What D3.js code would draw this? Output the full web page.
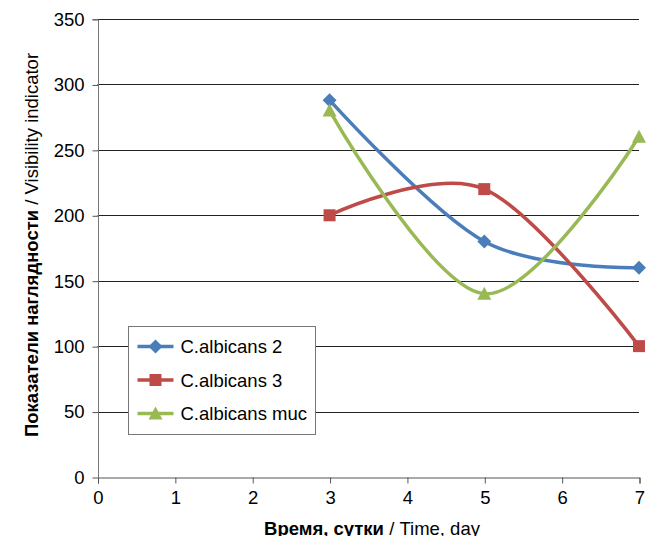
<!DOCTYPE html>
<html>
<head>
<meta charset="utf-8">
<script src="https://cdn.jsdelivr.net/npm/d3@7"></script>
<style>
  html, body { margin: 0; padding: 0; background: #fff; }
  svg { display: block; font-family: "Liberation Sans", Arial, sans-serif; }
</style>
</head>
<body>
<svg id="chart" width="662" height="536"></svg>
<script>
// Observation days and visibility indicator values per strain
const days = [3, 5, 7];
const seriesNames = ["C.albicans 2", "C.albicans 3", "C.albicans muc"];
const albicans2 = [288, 180, 160];
const albicans3 = [200, 220, 100];
const albicansMuc = [280, 140, 260];
const seriesColors = ["#4A7EBB", "#BE4B48", "#98B954"];
const markerShapes = ["diamond", "square", "triangle"];
const yTicks = [0, 50, 100, 150, 200, 250, 300, 350];
const xTicks = [0, 1, 2, 3, 4, 5, 6, 7];

const FONT = 18.5;

const series = [albicans2, albicans3, albicansMuc].map((vals, i) => ({
  name: seriesNames[i],
  color: seriesColors[i],
  shape: markerShapes[i],
  points: days.map((d, j) => ({ x: d, y: vals[j] }))
}));

const svg = d3.select("#chart");
const margin = { left: 97.5, right: 23, top: 19, bottom: 59 };
const W = 662, H = 536;

const x = d3.scaleLinear().domain([0, 7]).range([margin.left, W - margin.right]);
const y = d3.scaleLinear().domain([0, 350]).range([H - margin.bottom, margin.top]);

// Horizontal gridlines
svg.append("g")
  .selectAll("line")
  .data(yTicks.filter(t => t > 0))
  .join("line")
  .attr("x1", x(0)).attr("x2", x(7))
  .attr("y1", d => Math.round(y(d)) + 0.5).attr("y2", d => Math.round(y(d)) + 0.5)
  .attr("stroke", "#222").attr("stroke-width", 1);

// Y axis
const yAxis = svg.append("g")
  .attr("transform", `translate(${Math.round(x(0)) + 0.5},0.5)`)
  .call(d3.axisLeft(y).tickValues(yTicks).tickSize(6).tickPadding(8).tickFormat(d3.format("d")));
yAxis.select(".domain").attr("stroke", "#777").attr("d", `M-6,${y(350)}H0V${y(0)}`);
yAxis.selectAll(".tick line").attr("stroke", "#555");
yAxis.selectAll(".tick text").attr("font-size", FONT).attr("fill", "#000")
  .attr("font-family", "Liberation Sans, Arial, sans-serif");

// X axis
const xAxis = svg.append("g")
  .attr("transform", `translate(0.5,${Math.round(y(0)) + 0.5})`)
  .call(d3.axisBottom(x).tickValues(xTicks).tickSize(6).tickPadding(7).tickFormat(d3.format("d")));
xAxis.select(".domain").attr("stroke", "#555");
xAxis.selectAll(".tick line").attr("stroke", "#555");
xAxis.selectAll(".tick text").attr("font-size", FONT).attr("fill", "#000")
  .attr("font-family", "Liberation Sans, Arial, sans-serif");

// Axis titles: bold Russian part, regular English part
const xTitle = svg.append("text")
  .attr("x", 372).attr("y", 535)
  .attr("text-anchor", "middle").attr("font-size", FONT).attr("fill", "#000");
xTitle.append("tspan").attr("font-weight", "bold").text("Время, сутки");
xTitle.append("tspan").text(" / Time, day");

const yTitle = svg.append("text")
  .attr("transform", `translate(38,${(y(0) + y(350)) / 2 - 3}) rotate(-90)`)
  .attr("text-anchor", "middle").attr("font-size", FONT).attr("fill", "#000");
yTitle.append("tspan").attr("font-weight", "bold").text("Показатели наглядности");
yTitle.append("tspan").text(" / Visibility indicator");

// Marker symbols
function markerPath(shape) {
  if (shape === "diamond") return "M0,-7L7,0L0,7L-7,0Z";
  if (shape === "square") return "M-6,-6H6V6H-6Z";
  return "M0,-7L7,6H-7Z";
}

const line = d3.line()
  .x(d => x(d.x)).y(d => y(d.y))
  .curve(d3.curveCardinal.tension(0));

const plot = svg.append("g");
series.forEach(s => {
  plot.append("path")
    .attr("d", line(s.points))
    .attr("fill", "none")
    .attr("stroke", s.color)
    .attr("stroke-width", 3.5)
    .attr("stroke-linejoin", "round")
    .attr("stroke-linecap", "round");
});
series.forEach(s => {
  plot.selectAll(null)
    .data(s.points)
    .join("path")
    .attr("transform", d => `translate(${x(d.x)},${y(d.y)})`)
    .attr("d", markerPath(s.shape))
    .attr("fill", s.color);
});

// Legend
const legend = svg.append("g").attr("transform", "translate(128.5,326.5)");
legend.append("rect")
  .attr("width", 187).attr("height", 108)
  .attr("fill", "#fff").attr("stroke", "#777").attr("stroke-width", 1);
series.forEach((s, i) => {
  const g = legend.append("g").attr("transform", `translate(0,${20 + i * 33.5})`);
  g.append("line").attr("x1", 9).attr("x2", 45).attr("y1", 0).attr("y2", 0)
    .attr("stroke", s.color).attr("stroke-width", 3.5);
  g.append("path").attr("transform", "translate(27,0)").attr("d", markerPath(s.shape))
    .attr("fill", s.color);
  g.append("text").attr("x", 52).attr("y", 6.5)
    .attr("font-size", FONT).attr("fill", "#000").text(s.name);
});
</script>
</body>
</html>
